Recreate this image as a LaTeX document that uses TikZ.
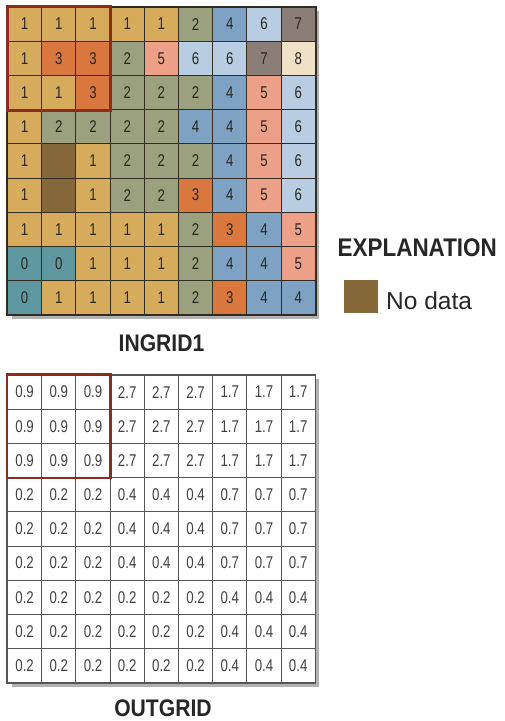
\documentclass[tikz,border=0pt]{standalone}
\usepackage{fontspec}
\setmainfont{Liberation Sans}
\newfontfamily\condfont{Liberation Sans}[FakeStretch=0.78]
\newfontfamily\titlefont{Liberation Sans}[FakeStretch=0.88]
\usetikzlibrary{shadows}
\usepackage{xcolor}
\definecolor{v0}      {HTML}{5F98A0}
\definecolor{v1}      {HTML}{D6AC5C}
\definecolor{v2}      {HTML}{9BA07E}
\definecolor{v3}      {HTML}{D9773F}
\definecolor{v4}      {HTML}{7FA2C4}
\definecolor{v5}      {HTML}{ECA088}
\definecolor{v6}      {HTML}{B8CDE2}
\definecolor{v7}      {HTML}{8A7E77}
\definecolor{v8}      {HTML}{EEE1C6}
\definecolor{vN}      {HTML}{86693A}
\definecolor{gridline}{HTML}{332C20}
\definecolor{owline}  {HTML}{555555}
\definecolor{boxred}  {HTML}{8E2B1F}
\definecolor{celltext}{HTML}{2A261F}
\definecolor{outtext} {HTML}{404040}

\begin{document}
\begin{tikzpicture}[x=1pt, y=-1pt,
  cell/.style  = {rectangle, draw=gridline, line width=1pt,
                  minimum width=34.2pt, minimum height=34.2pt, inner sep=0pt,
                  font=\condfont\fontsize{17}{17}\selectfont, text=celltext},
  wcell/.style = {cell, draw=owline, line width=0.9pt, fill=white, text=outtext},
  box/.style   = {draw=boxred, line width=3pt},
  frame/.style = {fill=white, drop shadow={shadow xshift=4pt, shadow yshift=-4pt,
                  opacity=0.3, fill=black}},
  border/.style = {draw=#1, line width=1.4pt},
  title/.style = {inner sep=0pt, font=\titlefont\bfseries\fontsize{24}{24}\selectfont,
                  text=black!85}
]
\useasboundingbox (0,0) rectangle (505,721);

% INGRID1
\fill[frame] (7.5,7) rectangle (315.3,314.8);
\foreach \v [count=\i from 0] in {1,1,1,1,1,2,4,6,7,
                                  1,3,3,2,5,6,6,7,8,
                                  1,1,3,2,2,2,4,5,6,
                                  1,2,2,2,2,4,4,5,6,
                                  1,N,1,2,2,2,4,5,6,
                                  1,N,1,2,2,3,4,5,6,
                                  1,1,1,1,1,2,3,4,5,
                                  0,0,1,1,1,2,4,4,5,
                                  0,1,1,1,1,2,3,4,4} {
  \pgfmathtruncatemacro\row{\i/9}
  \pgfmathtruncatemacro\col{\i-9*\row}
  \node[cell, fill=v\v] (a\row\col) at ({7.5+34.2*(\col+0.5)}, {7+34.2*(\row+0.5)})
    {\if N\v\else\v\fi};
}
\draw[border=gridline] (a00.north west) rectangle (a88.south east);
\draw[box] (a00.north west) rectangle (a22.south east);
\node[title] (ingrid) at (161.5, 343.5) {INGRID1};

% explanation
\node[title, anchor=west, font=\titlefont\bfseries\fontsize{25.5}{25.5}\selectfont]
  (expl) at (337.5, 247.5) {EXPLANATION};
\node[rectangle, fill=vN, minimum width=34pt, minimum height=33pt, inner sep=0pt]
  (nodata) at (360.5, 296.5) {};
\node[anchor=base west, inner sep=0pt, text=black!85,
      font=\fontsize{24.5}{24.5}\selectfont] (ndlbl) at (386, 309) {No data};

% OUTGRID
\fill[frame] (7.5,375) rectangle (315.3,682.8);
\foreach \v [count=\i from 0] in {0.9,0.9,0.9,2.7,2.7,2.7,1.7,1.7,1.7,
                                  0.9,0.9,0.9,2.7,2.7,2.7,1.7,1.7,1.7,
                                  0.9,0.9,0.9,2.7,2.7,2.7,1.7,1.7,1.7,
                                  0.2,0.2,0.2,0.4,0.4,0.4,0.7,0.7,0.7,
                                  0.2,0.2,0.2,0.4,0.4,0.4,0.7,0.7,0.7,
                                  0.2,0.2,0.2,0.4,0.4,0.4,0.7,0.7,0.7,
                                  0.2,0.2,0.2,0.2,0.2,0.2,0.4,0.4,0.4,
                                  0.2,0.2,0.2,0.2,0.2,0.2,0.4,0.4,0.4,
                                  0.2,0.2,0.2,0.2,0.2,0.2,0.4,0.4,0.4} {
  \pgfmathtruncatemacro\row{\i/9}
  \pgfmathtruncatemacro\col{\i-9*\row}
  \node[wcell] (b\row\col) at ({7.5+34.2*(\col+0.5)}, {375+34.2*(\row+0.5)}) {\v};
}
\draw[border=owline] (b00.north west) rectangle (b88.south east);
\draw[box, line width=2.4pt] (b00.north west) rectangle (b22.south east);
\node[title] (outgrid) at (163, 708) {OUTGRID};
\end{tikzpicture}
\end{document}
